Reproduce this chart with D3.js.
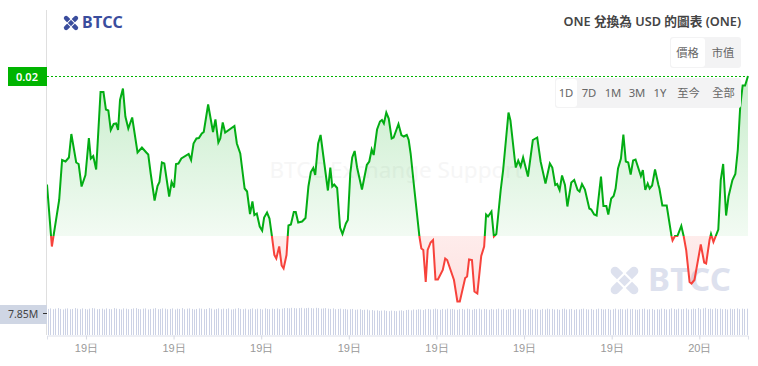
<!DOCTYPE html>
<html>
<head>
<meta charset="utf-8">
<script src="https://cdn.jsdelivr.net/npm/d3@7"></script>
<style>
html,body{margin:0;padding:0;background:#fff;}
svg{display:block;font-family:"Noto Sans","Noto Sans CJK TC",sans-serif;}
</style>
</head>
<body>
<svg id="chart" width="758" height="366"></svg>
<script>
// minutes since the start of the 24h window
const minutes = [0,10,25,31,38,45,50,60,65,71,79,86,90,95,101,110,116,121,126,131,137,142,146,150,156,161,167,175,186,195,204,208,213,221,227,231,236,241,251,256,261,265,270,276,291,296,301,307,312,318,322,331,341,346,352,356,361,366,385,390,397,406,411,417,422,426,431,437,442,446,452,457,462,467,471,477,482,486,492,496,501,507,511,516,524,531,537,542,547,551,557,562,577,582,586,590,596,602,607,614,618,623,627,632,637,647,657,662,667,671,678,684,688,692,697,702,708,712,722,728,733,739,743,747,754,765,769,773,778,782,788,793,798,803,813,818,822,836,843,848,859,863,867,873,878,884,892,898,902,906,913,918,923,932,937,948,952,961,963,968,973,978,988,998,1007,1014,1024,1033,1038,1044,1048,1053,1058,1064,1069,1077,1083,1090,1094,1099,1105,1114,1118,1124,1129,1138,1143,1149,1153,1159,1164,1168,1173,1179,1184,1189,1194,1199,1204,1209,1220,1224,1229,1234,1238,1243,1249,1256,1258,1264,1273,1283,1285,1290,1295,1303,1308,1313,1320,1324,1330,1343,1350,1354,1361,1364,1369,1379,1384,1389,1395,1400,1408,1414,1419,1424,1429,1434,1440];
// price in 1e-5 USD
const priceE5 = [1783,1659,1752,1832,1829,1837,1884,1827,1824,1779,1802,1876,1835,1840,1813,1968,1968,1933,1931,1892,1904,1905,1892,1952,1975,1919,1895,1917,1847,1857,1847,1843,1805,1751,1780,1788,1827,1825,1759,1788,1777,1824,1825,1835,1844,1832,1865,1875,1876,1885,1888,1943,1888,1913,1867,1875,1907,1887,1900,1865,1845,1775,1769,1724,1749,1722,1725,1699,1691,1717,1727,1715,1680,1642,1635,1659,1621,1615,1642,1701,1703,1728,1728,1707,1709,1716,1779,1808,1816,1802,1865,1882,1771,1817,1779,1783,1776,1697,1684,1705,1712,1805,1837,1850,1817,1773,1822,1829,1853,1842,1893,1909,1912,1905,1927,1915,1875,1877,1904,1882,1879,1882,1872,1845,1779,1679,1655,1652,1588,1652,1667,1672,1593,1593,1612,1635,1632,1592,1549,1549,1596,1599,1633,1632,1569,1565,1640,1659,1723,1719,1729,1679,1684,1772,1812,1927,1911,1832,1817,1831,1819,1837,1799,1872,1877,1829,1785,1825,1817,1782,1784,1772,1801,1782,1739,1787,1792,1772,1769,1784,1773,1735,1733,1723,1721,1799,1740,1740,1723,1755,1760,1775,1815,1835,1883,1829,1827,1803,1831,1833,1800,1812,1772,1785,1775,1781,1813,1782,1775,1741,1741,1679,1671,1680,1680,1700,1679,1652,1588,1585,1592,1663,1627,1625,1672,1684,1668,1693,1792,1824,1721,1759,1792,1804,1852,1939,1981,1981,2000];
const basePrice = 1680;
const topPrice = 2000;
const lowPrice = 1549;
const topPriceLabel = "0.02";

// volume per 5 minute bar, in millions
const volumes = [
9.3,9.5,9.2,9.4,9.6,9.3,9.1,9.4,9.5,9.2,9.3,9.6,
9.4,9.2,9.5,9.3,9.1,9.4,9.6,9.5,9.2,9.3,9.4,9.1,
9.5,9.3,9.2,9.6,9.4,9.3,9.1,9.5,9.4,9.2,9.3,9.5,
9.6,9.3,9.2,9.4,9.5,9.1,9.3,9.4,9.6,9.2,9.3,9.5,
9.4,9.2,9.3,9.5,9.1,9.4,9.3,9.6,9.2,9.4,9.5,9.3,
9.1,9.3,9.5,9.4,9.2,9.3,9.6,9.4,9.1,9.3,9.5,9.2,
9.4,9.3,9.5,9.1,9.2,9.4,9.6,9.3,9.2,9.4,9.1,9.3,
9.5,9.2,9.4,9.3,9.1,9.5,9.3,9.2,9.4,9.3,9.5,9.2,
9.4,9.6,9.6,9.5,9.7,9.6,9.5,9.6,9.7,9.5,9.6,9.7,
9.6,9.5,9.7,9.6,9.4,9.5,9.6,9.4,9.3,9.5,9.2,9.3,
9.4,9.2,9.3,9.1,9.2,9.3,9.0,9.1,9.2,8.9,9.0,9.1,
8.8,8.9,8.7,8.8,8.6,8.7,8.8,8.6,8.5,8.7,8.6,8.5,
8.7,8.8,8.6,8.9,9.0,8.8,9.1,9.0,9.2,9.1,8.9,9.2,
9.3,9.1,9.2,9.4,9.2,9.0,9.3,9.1,9.4,9.2,9.3,9.1,
9.0,9.2,9.3,9.1,9.4,9.2,9.0,9.3,9.2,9.4,9.1,9.3,
9.2,9.0,9.3,9.1,9.2,9.4,9.1,9.3,9.0,9.2,9.3,9.1,
9.4,9.2,9.1,9.3,9.0,9.2,9.4,9.1,9.3,9.2,9.0,9.3,
9.1,9.4,9.2,9.3,9.1,9.2,9.0,9.3,9.4,9.1,9.2,9.3,
9.0,9.2,9.1,9.3,9.4,9.2,9.1,9.3,9.0,9.2,9.4,9.3,
9.1,9.2,9.3,9.0,9.2,9.4,9.1,9.3,9.2,9.1,9.4,9.2,
9.3,9.1,9.0,9.2,9.3,9.4,9.1,9.2,9.3,9.0,9.2,9.1,
9.4,9.3,9.1,9.2,9.5,9.3,9.1,9.4,9.2,9.3,9.5,9.1,
9.2,9.4,9.3,9.6,9.2,9.5,9.7,9.3,9.4,9.2,9.5,9.3,
9.4,9.2,9.3,9.1,9.4,9.2,9.3,9.5,9.2,9.4,9.3,9.4];
const volumeRefValue = 7.85;
const volumeRefLabel = "7.85M";

const tickMinutes = [80,260,440,620,800,980,1160,1340];
const tickLabels = ["19日","19日","19日","19日","19日","19日","19日","20日"];

const titleText = "ONE 兌換為 USD 的圖表 (ONE)";
const typeButtons = ["價格","市值"];
const rangeButtons = ["1D","7D","1M","3M","1Y","至今","全部"];
const logoText = "BTCC";
const watermarkText = "BTCC Exchange Support";

const green = "#03ad14", red = "#f7423b";
const svg = d3.select("#chart");

const x = d3.scaleLinear().domain([0,1440]).range([47,748]);
const y = d3.scaleLinear().domain([basePrice,topPrice]).range([236,76]);
const yVol = d3.scaleLinear().domain([0,volumeRefValue]).range([335,313]);
const data = minutes.map((m,i)=>({m:m,p:priceE5[i]}));

var defs = svg.append("defs");
var gGreen = defs.append("linearGradient").attr("id","gradGreen").attr("gradientUnits","userSpaceOnUse")
	.attr("x1",0).attr("y1",y(topPrice)).attr("x2",0).attr("y2",y(basePrice));
gGreen.append("stop").attr("offset","0%").attr("stop-color",green).attr("stop-opacity",0.22);
gGreen.append("stop").attr("offset","100%").attr("stop-color",green).attr("stop-opacity",0.05);
var gRed = defs.append("linearGradient").attr("id","gradRed").attr("gradientUnits","userSpaceOnUse")
	.attr("x1",0).attr("y1",y(basePrice)).attr("x2",0).attr("y2",y(lowPrice));
gRed.append("stop").attr("offset","0%").attr("stop-color",red).attr("stop-opacity",0.1);
gRed.append("stop").attr("offset","100%").attr("stop-color",red).attr("stop-opacity",0.16);
defs.append("clipPath").attr("id","clipUp").append("rect").attr("x",0).attr("y",0).attr("width",758).attr("height",y(basePrice));
defs.append("clipPath").attr("id","clipDown").append("rect").attr("x",0).attr("y",y(basePrice)).attr("width",758).attr("height",366-y(basePrice));

// faint watermark behind the plot
svg.append("text").attr("x",396).attr("y",178).attr("text-anchor","middle")
	.attr("font-size",22.5).attr("fill","#f6f6f6").text(watermarkText);

// logo, used top left and as bottom right watermark
function drawLogo(g,size,color,fontSize,textGap){
	var s = size/20;
	var icon = g.append("g").attr("transform",`scale(${s})`)
	icon.selectAll("line.arm").data([[3,3,17,17],[17,3,3,17]]).join("line").attr("class","arm")
		.attr("x1",d=>d[0]).attr("y1",d=>d[1]).attr("x2",d=>d[2]).attr("y2",d=>d[3])
		.attr("stroke",color).attr("stroke-width",6.5).attr("stroke-linecap","round")
	// white diamond cut splits the cross into four chevrons
	icon.append("path").attr("d","M10 4.6L15.4 10L10 15.4L4.6 10Z").attr("fill",color)
		.attr("stroke","#fff").attr("stroke-width",1.5)
	g.append("text").attr("x",size+textGap).attr("y",size*0.88).attr("font-size",fontSize).attr("font-weight",700)
		.attr("letter-spacing",0.3).attr("fill",color).text(logoText);
}
drawLogo(svg.append("g").attr("transform","translate(64,16)"),14,"#3a4d9d",16,4);
drawLogo(svg.append("g").attr("transform","translate(611,267)"),27,"#dde1ee",33,10);

// volume bars
svg.append("g").selectAll("rect").data(volumes).join("rect")
	.attr("x",(d,i)=>Math.round(x(i*5))+1)
	.attr("y",d=>yVol(d))
	.attr("width",1)
	.attr("height",d=>yVol(0)-yVol(d))
	.attr("fill","#ccd2e5");

// price area and line, split at the base price
var area = d3.area().x(d=>x(d.m)).y0(y(basePrice)).y1(d=>y(d.p));
var line = d3.line().x(d=>x(d.m)).y(d=>y(d.p));
var up = svg.append("g").attr("clip-path","url(#clipUp)");
up.append("path").datum(data).attr("d",area).attr("fill","url(#gradGreen)");
up.append("path").datum(data).attr("d",line).attr("fill","none").attr("stroke",green).attr("stroke-width",2);
var down = svg.append("g").attr("clip-path","url(#clipDown)");
down.append("path").datum(data).attr("d",area).attr("fill","url(#gradRed)");
down.append("path").datum(data).attr("d",line).attr("fill","none").attr("stroke",red).attr("stroke-width",2);

// axes
svg.append("line").attr("x1",46.5).attr("x2",46.5).attr("y1",10).attr("y2",335).attr("stroke","#dfdfdf");
var xAxis = svg.append("g").attr("transform","translate(0,335.5)")
	.call(d3.axisBottom(x).tickValues(tickMinutes).tickFormat((d,i)=>tickLabels[i]).tickSize(4).tickPadding(5));
xAxis.select(".domain").attr("stroke","#dde0ea");
xAxis.selectAll(".tick line").attr("stroke","#d5d8e2");
xAxis.selectAll("text").attr("font-size",11).attr("font-family","inherit").attr("fill","#999");

// last price line and label
svg.append("line").attr("x1",43).attr("x2",748).attr("y1",y(topPrice)+0.5).attr("y2",y(topPrice)+0.5)
	.attr("stroke","#00b400").attr("stroke-dasharray","2,2");
svg.append("rect").attr("x",8).attr("y",67).attr("width",39).attr("height",19).attr("fill","#00b400");
svg.append("text").attr("x",27).attr("y",80.5).attr("text-anchor","middle").attr("font-size",11).attr("font-weight",600)
	.attr("fill","#fff").text(topPriceLabel);

// volume label
svg.append("rect").attr("x",0).attr("y",305).attr("width",47).attr("height",19).attr("fill","#cfd6e4");
svg.append("text").attr("x",8).attr("y",318).attr("font-size",10.5).attr("fill","#444").text(volumeRefLabel);
svg.append("line").attr("x1",43).attr("x2",47).attr("y1",yVol(volumeRefValue)+0.5).attr("y2",yVol(volumeRefValue)+0.5).attr("stroke","#333");

// title
svg.append("text").attr("x",741).attr("y",26).attr("text-anchor","end").attr("font-size",12.7).attr("font-weight",600)
	.attr("fill","#444").text(titleText);

// button panels
function drawButtons(items,widths,px,py,h){
	var total = d3.sum(widths);
	svg.append("rect").attr("x",px).attr("y",py).attr("width",total).attr("height",h).attr("rx",3).attr("fill","#f3f3f4");
	var left = px;
	items.forEach((t,i)=>{
		if(i===0) svg.append("rect").attr("x",left+1).attr("y",py+1).attr("width",widths[i]-1).attr("height",h-2).attr("rx",3).attr("fill","#fff");
		svg.append("text").attr("x",left+widths[i]/2).attr("y",py+h/2+4).attr("text-anchor","middle")
			.attr("font-size",11.3).attr("fill","#666").text(t);
		left += widths[i];
	});
}
drawButtons(typeButtons,[35,36],670,37,31);
drawButtons(rangeButtons,[22,24,24,24,22,35,35],555,78,30);
</script>
</body>
</html>
